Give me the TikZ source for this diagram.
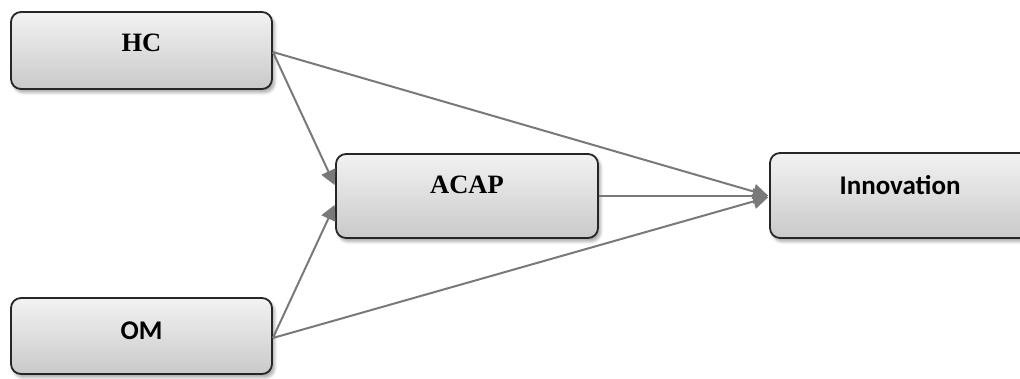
\documentclass[tikz,border=0pt]{standalone}
\usepackage{fontspec}
\setmainfont{Liberation Serif}
\newfontfamily\calfont{Carlito}
\usetikzlibrary{arrows.meta,shadows.blur,calc}
\tikzset{
  box/.style={draw=black!85, line width=1.8pt, rounded corners=10pt,
    top color=gray!10, bottom color=gray!42, shading angle=0,
    inner sep=0pt, text height=18pt,
    blur shadow={shadow xshift=2.5pt, shadow yshift=-3.5pt, shadow blur steps=6, shadow blur radius=3pt, shadow opacity=35}},
  serifbox/.style={box, font=\fontsize{26.5}{30}\selectfont\bfseries},
  sansbox/.style={box, font=\fontsize{27}{30}\calfont\bfseries},
  link/.style={draw=gray!95!black, color=gray!95!black, line width=2pt, -{Triangle[length=15pt,width=15pt]}, shorten >=1pt}
}
\begin{document}
\begin{tikzpicture}[x=1pt,y=-1pt]
\useasboundingbox (0,0) rectangle (1020,378);
\clip (0,0) rectangle (1020,378);
\node[serifbox, minimum width=261pt, minimum height=77pt, text depth=17pt] (HC) at (141.5,50.5) {HC};
\node[serifbox, minimum width=262pt, minimum height=84pt, text depth=24pt] (ACAP) at (467,196) {ACAP};
\node[sansbox, minimum width=260pt, minimum height=85pt, text depth=20pt] (INN) at (900,195.5) {Innovation};
\node[sansbox, minimum width=261pt, minimum height=76pt, text depth=12pt] (OM) at (141.5,336) {OM};
\draw[link] ($(HC.east)+(0,1.5)$) -- ($(INN.west)+(0,0.5)$);
\draw[link] ($(HC.east)+(0,1.5)$) -- ($(ACAP.west)+(0,-10)$);
\draw[link] ($(OM.east)+(0,2)$) -- ($(ACAP.west)+(0,8)$);
\draw[link] ($(OM.east)+(0,2)$) -- ($(INN.west)+(0,1.5)$);
\draw[link] (ACAP.east) -- ($(INN.west)+(0,0.5)$);
\end{tikzpicture}
\end{document}
